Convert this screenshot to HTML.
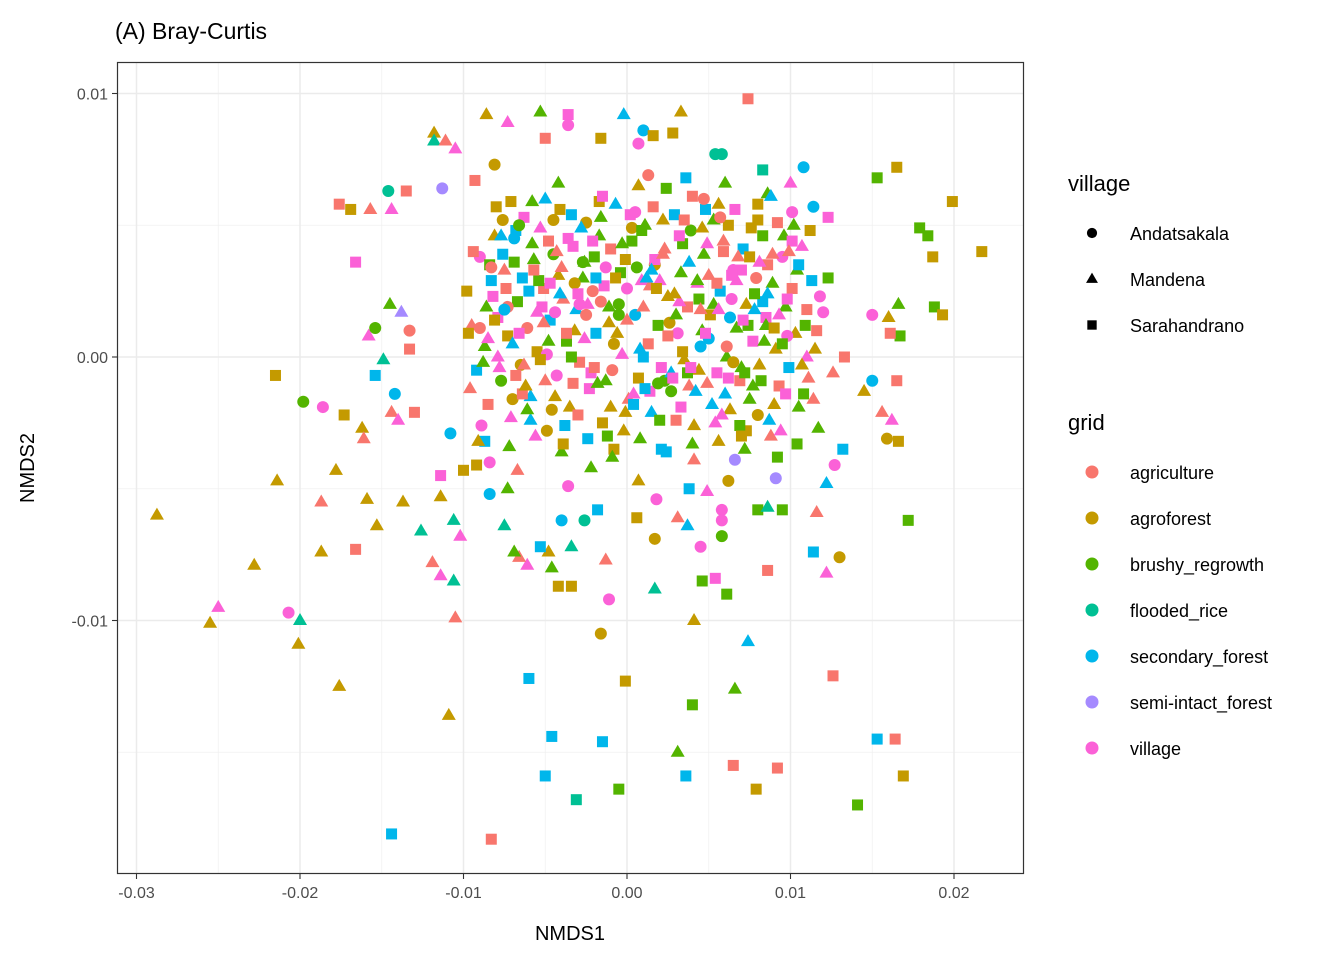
<!DOCTYPE html>
<html><head><meta charset="utf-8"><style>
html,body{margin:0;padding:0;background:#fff;}
svg{display:block;font-family:"Liberation Sans",Arial,sans-serif;}
</style></head><body>
<svg id="chart" width="1344" height="960" xmlns="http://www.w3.org/2000/svg">
<rect width="1344" height="960" fill="#fff"/>
<text x="115" y="39" font-size="23" fill="#000">(A) Bray-Curtis</text>
<g id="grid"></g>
<g id="points"></g>
<rect x="117.5" y="62.5" width="906" height="811" fill="none" stroke="#333" stroke-width="1.2"/>
<g id="axes"></g>
<text x="570" y="940" font-size="20" text-anchor="middle" fill="#000">NMDS1</text>
<text x="0" y="0" font-size="20" text-anchor="middle" fill="#000" transform="translate(34,468) rotate(-90)">NMDS2</text>
<g id="legend"></g>
</svg>
<script>
// values in units of 1e-3
const xTicks = [-30,-20,-10,0,10,20];
const xTickLabels = ["-0.03","-0.02","-0.01","0.00","0.01","0.02"];
const yTicks = [10,0,-10];
const yTickLabels = ["0.01","0.00","-0.01"];
const gridLevels = ["agriculture","agroforest","brushy_regrowth","flooded_rice","secondary_forest","semi-intact_forest","village"];
const villageLevels = ["Andatsakala","Mandena","Sarahandrano"];
const nmds1 = [
-28.75,-25.5,-25.0,-22.8,-20.7,-20.1,-20.0,-21.4,-21.5,-19.8,
-17.6,-18.7,-18.7,-17.8,-18.6,-17.3,-16.6,-15.9,-15.3,-16.2,
-16.1,-16.6,-17.6,-16.9,-15.7,-14.4,-14.6,-13.5,-15.4,-14.9,
-14.2,-14.4,-14.0,-13.7,-13.0,-13.3,-13.8,-15.8,-15.4,-14.5,
-13.3,-12.6,-11.9,-11.4,-10.6,-10.5,-10.9,-11.4,-11.4,-10.8,
-10.6,-10.2,-10.0,-11.8,-11.8,-11.1,-10.5,-11.3,-9.3,-8.6,
-7.3,-8.1,-5.3,-5.0,-3.6,-3.6,-1.6,-0.2,1.0,0.7,
1.6,2.8,3.3,7.4,5.4,5.8,8.3,10.8,8.6,10.1,
11.4,12.3,15.3,16.5,19.9,17.9,18.4,18.7,21.7,18.8,
19.3,16.6,16.0,15.0,16.7,16.1,16.5,15.0,16.6,15.9,
15.6,16.2,17.2,14.5,13.2,13.3,13.0,12.2,11.6,12.2,
12.7,11.4,12.6,8.6,7.4,6.6,6.1,5.4,4.6,6.5,
9.2,7.9,4.0,3.1,3.6,4.1,-0.5,-3.1,-5.0,-4.6,
-6.0,-1.5,-0.1,-1.6,-1.1,-8.3,-14.4,14.1,15.3,16.4,
16.9,9.5,8.0,8.6,9.1,6.2,6.6,5.8,5.8,4.5,
5.8,1.7,0.6,1.7,1.8,3.8,4.9,3.1,3.7,0.7,
-1.3,-1.8,-3.6,-4.0,-2.6,-4.2,-3.4,-4.6,-4.8,-3.4,
-5.3,-6.1,-6.6,-6.9,-7.5,-8.4,-7.3,-8.4,-9.2,-8.7,
-6.7,
-9.8,-9.5,-9.2,-9.0,-8.7,-8.5,-8.3,-8.1,-7.9,-7.7,
-7.5,-7.3,-7.1,-6.9,-6.7,-6.5,-6.3,-6.1,-5.9,-5.7,
-5.5,-5.3,-5.1,-4.9,-4.7,-4.5,-4.3,-4.1,-3.9,-3.7,
-3.5,-3.3,-3.1,-2.9,-2.7,-2.5,-2.3,-2.1,-1.9,-1.7,
-1.5,-1.3,-1.1,-0.9,-0.7,-0.5,-0.3,-0.1,0.1,0.3,
0.5,0.7,0.9,1.1,1.3,1.5,1.7,1.9,2.1,2.3,
2.5,2.7,2.9,3.1,3.3,3.5,3.7,3.9,4.1,4.3,
4.5,4.7,4.9,5.1,5.3,5.5,5.7,5.9,6.1,6.3,
6.5,6.7,6.9,7.1,7.3,7.5,7.7,7.9,8.1,8.3,
8.5,8.7,8.9,9.1,9.3,9.5,9.7,9.9,10.1,10.3,
10.5,10.7,10.9,11.1,11.3,11.5,11.7,12.0,12.3,12.6,
-8.9,-8.0,-7.2,-6.4,-5.6,-4.8,-4.0,-3.2,-2.4,-1.6,
-0.8,0.0,0.8,1.6,2.4,3.2,4.0,4.8,5.6,6.4,
7.2,8.0,8.8,9.6,10.4,11.2,-9.6,-8.6,-7.6,-6.6,
-5.8,-5.0,-4.2,-3.4,-2.6,-1.8,-1.0,-0.2,0.6,1.4,
2.2,3.0,3.8,4.6,5.4,6.2,7.0,7.8,8.6,9.4,
10.2,11.0,-7.0,-6.0,-4.4,-3.0,-2.0,-0.6,1.0,2.0,
3.4,4.4,5.0,6.0,7.0,7.6,8.4,9.0,9.8,-2.2
];
const nmds2 = [
-6.0,-10.1,-9.5,-7.9,-9.7,-10.9,-10.0,-4.7,-0.7,-1.7,
-12.5,-5.5,-7.4,-4.3,-1.9,-2.2,-7.3,-5.4,-6.4,-2.7,
-3.1,3.6,5.8,5.6,5.6,5.6,6.3,6.3,-0.7,-0.1,
-1.4,-2.1,-2.4,-5.5,-2.1,1.0,1.7,0.8,1.1,2.0,
0.3,-6.6,-7.8,-8.3,-8.5,-9.9,-13.6,-5.3,-4.5,-2.9,
-6.2,-6.8,-4.3,8.5,8.2,8.2,7.9,6.4,6.7,9.2,
8.9,7.3,9.3,8.3,9.2,8.8,8.3,9.2,8.6,8.1,
8.4,8.5,9.3,9.8,7.7,7.7,7.1,7.2,6.2,5.5,
5.7,5.3,6.8,7.2,5.9,4.9,4.6,3.8,4.0,1.9,
1.6,2.0,1.5,1.6,0.8,0.9,-0.9,-0.9,-3.2,-3.1,
-2.1,-2.4,-6.2,-1.3,-3.5,0.0,-7.6,-8.2,-5.9,-4.8,
-4.1,-7.4,-12.1,-8.1,-10.8,-12.6,-9.0,-8.4,-8.5,-15.5,
-15.6,-16.4,-13.2,-15.0,-15.9,-10.0,-16.4,-16.8,-15.9,-14.4,
-12.2,-14.6,-12.3,-10.5,-9.2,-18.3,-18.1,-17.0,-14.5,-14.5,
-15.9,-5.8,-5.8,-5.7,-4.6,-4.7,-3.9,-5.8,-6.2,-7.2,
-6.8,-6.9,-6.1,-8.8,-5.4,-5.0,-5.1,-6.1,-6.4,-4.7,
-7.7,-5.8,-4.9,-6.2,-6.2,-8.7,-8.7,-8.0,-7.4,-7.2,
-7.2,-7.9,-7.6,-7.4,-6.4,-5.2,-5.0,-4.0,-4.1,-3.2,
-4.3,
2.5,1.2,-0.5,3.8,0.4,-1.8,2.9,4.6,1.5,-0.9,
3.3,0.8,-2.3,4.5,2.1,-0.3,5.3,1.1,-1.5,3.7,
0.2,4.9,2.6,-2.8,1.4,3.9,-0.7,5.6,2.2,0.6,
-1.9,4.2,1.8,-0.2,3.0,5.1,-1.2,2.5,0.9,4.6,
-2.5,3.4,1.3,-0.5,5.8,2.0,0.1,3.7,-1.6,4.4,
1.6,-0.8,2.9,5.0,0.5,-2.1,3.5,1.2,-0.4,4.1,
2.3,-1.3,5.4,0.9,3.2,-0.1,1.9,4.8,-2.6,2.8,
0.4,3.9,-1.0,1.6,5.2,-0.6,2.5,4.4,0.0,-2.0,
3.3,1.1,-0.9,4.1,2.0,-1.6,0.6,3.0,-0.3,4.6,
1.5,-2.4,2.8,0.3,-1.1,3.8,1.9,-0.4,2.6,0.9,
-1.9,4.2,1.2,-0.8,2.9,0.3,-2.7,1.7,3.0,-0.6,
-2.6,5.7,-3.4,3.0,-3.0,4.4,-3.6,2.8,-3.1,5.3,
-3.5,2.6,-3.1,5.7,-3.6,2.1,-3.3,5.6,-3.2,2.2,
-3.5,5.2,-3.0,4.6,-3.3,4.8,-1.2,1.9,3.9,0.9,
5.9,-0.9,3.1,5.4,0.7,-1.0,4.1,-2.8,3.4,-1.3,
5.2,-2.4,3.6,1.0,-2.5,5.0,-0.4,1.8,3.5,-2.8,
5.0,0.0,-1.6,2.5,1.7,-2.2,3.8,0.9,0.0,2.9,
4.3,-0.5,3.1,-1.4,3.3,4.9,0.6,-1.8,2.2,-4.2
];
const gridIdx = [
1,1,6,1,6,1,3,1,1,2,
1,0,1,1,6,1,0,1,1,1,
0,6,0,1,0,6,3,0,4,3,
4,0,6,1,0,0,5,6,2,2,
0,3,0,6,3,0,1,1,6,4,
3,6,1,1,3,0,6,5,0,1,
6,1,2,0,6,6,1,4,4,6,
1,1,1,0,3,3,3,4,2,6,
4,6,2,1,1,2,2,1,1,2,
1,2,1,6,2,0,0,4,1,1,
0,6,2,1,4,0,1,6,0,4,
6,4,0,0,4,2,2,6,2,0,
0,1,2,2,4,1,2,3,4,4,
4,4,1,1,6,0,4,2,4,0,
1,2,2,3,5,1,5,6,6,6,
2,1,1,3,6,4,6,0,4,1,
0,4,6,4,3,1,1,2,1,3,
4,6,0,2,3,4,2,6,1,4,
0,
1,0,4,6,2,0,4,1,6,2,
0,1,6,4,2,1,6,0,4,2,
1,6,0,1,4,2,6,1,0,2,
1,6,4,0,2,1,6,0,4,2,
1,6,1,0,4,2,6,1,0,2,
4,1,6,2,0,4,1,2,6,0,
1,2,4,6,2,1,0,2,1,6,
4,2,0,1,2,6,4,0,2,1,
6,2,0,4,1,2,6,0,1,2,
6,4,2,1,0,6,2,4,0,1,
2,6,2,0,4,1,2,6,2,0,
6,1,2,4,6,0,2,1,4,2,
1,6,2,0,4,6,2,4,1,6,
2,1,0,2,2,1,0,2,4,6,
2,0,1,4,6,2,0,1,2,6,
1,0,4,2,6,1,2,4,0,6,
2,6,1,4,6,0,2,1,4,6,
2,1,0,4,6,1,2,1,6,2
];
const villageIdx = [
1,1,1,1,0,1,1,1,2,0,
1,1,1,1,0,2,2,1,1,1,
1,2,2,2,1,1,0,2,2,1,
0,1,1,1,2,0,1,1,0,1,
2,1,1,1,1,1,1,1,2,0,
1,1,2,1,1,1,1,0,2,1,
1,0,1,2,2,0,2,1,0,0,
2,2,1,2,0,0,2,0,1,0,
0,2,2,2,2,2,2,2,2,2,
2,1,1,0,2,2,2,0,2,0,
1,1,2,1,2,2,0,1,1,1,
0,2,2,2,1,1,2,2,2,2,
2,2,2,1,2,1,2,2,2,2,
2,2,2,0,0,2,2,2,2,2,
2,2,2,1,0,0,0,0,0,0,
0,0,2,1,0,2,1,1,1,1,
1,2,0,0,0,2,2,1,1,1,
2,1,1,1,1,0,1,0,2,2,
1,
2,1,2,0,1,2,2,1,2,0,
1,2,1,0,2,0,2,0,1,1,
2,1,2,0,2,0,0,2,1,2,
1,2,1,2,1,0,2,0,2,1,
2,0,1,0,1,0,1,2,1,2,
0,2,1,1,2,1,0,2,2,1,
1,0,2,0,1,1,2,0,1,1,
0,1,1,2,1,2,2,1,1,1,
0,1,2,2,1,1,2,0,1,2,
2,1,1,1,2,0,1,2,2,1,
1,1,2,1,2,1,1,0,2,1,
0,2,1,2,1,2,1,0,2,1,
2,0,1,2,2,1,1,2,1,0,
1,2,1,1,2,2,1,1,2,2,
1,1,1,2,1,1,2,1,0,2,
1,2,1,1,1,2,1,1,2,1,
1,1,0,2,0,2,2,1,2,1,
2,1,1,1,2,2,1,1,2,1
];
// dense core of the cloud
const coreNmds1 = [
-9.4,-8.8,-8.2,-7.6,-7.0,-6.4,-5.8,-5.2,-4.6,-4.0,
-3.4,-2.8,-2.2,-1.6,-1.0,-0.4,0.2,0.8,1.4,2.0,
2.6,3.2,3.8,4.4,5.0,5.6,6.2,6.8,7.4,8.0,
8.6,9.2,9.8,10.4,11.0,-9.1,-8.4,-7.8,-7.3,-6.8,
-6.2,-5.4,-4.9,-4.3,-3.8,-3.2,-2.6,-2.0,-1.4,-0.8,
-0.3,0.4,1.0,1.7,2.3,2.9,3.5,4.2,4.8,5.3,
5.9,6.5,7.1,7.7,8.3,8.9,9.5,10.1,10.7,11.6,
-7.9,-6.9,-5.9,-4.5,-3.7,-2.4,-1.2,0.3,1.2,2.5,
3.7,4.9,6.1,7.3,8.5,9.7,-5.1,-1.9,1.9,5.6,
-8.1,-6.3,-3.0,-0.5,2.7,4.0,6.7,8.2,-4.4,0.9,
-8.5,-7.4,-6.6,-5.3,-4.1,-3.6,-2.5,-1.3,-0.7,0.5,
1.1,2.2,3.0,3.9,4.6,5.5,6.3,7.2,8.1,9.0,
9.9,10.8,11.8,-9.7,-7.7,-5.7,-4.8,-2.9,-1.7,0.0,
1.5,2.8,4.3,5.7,7.5,9.3,10.5,-6.1,-3.3,-0.1,
3.3,6.9,-8.3,-5.0,-2.1,0.7,2.4,4.7,6.6,8.8,
-7.1,-4.2,-1.5,1.3,3.6,6.0,8.0,10.0,-6.8,-2.7,
0.4,3.4,5.2,7.8,-9.0,-5.5,-3.9,-0.9,2.1,4.1,
5.8,7.0,9.2,11.4,-7.5,-4.7,-1.1,1.8,4.5,6.4
];
const coreNmds2 = [
4.0,-0.2,2.3,5.2,0.5,-1.4,4.3,1.9,-2.0,3.4,
0.0,4.9,-0.6,2.1,-1.9,3.2,5.4,0.3,2.7,-2.4,
1.3,4.6,-1.1,2.2,0.7,5.8,-0.8,3.8,1.2,-2.2,
2.4,5.1,0.8,3.3,1.8,-3.2,3.5,-0.4,1.9,4.8,
-1.1,2.9,0.1,4.0,-2.6,1.0,3.6,-0.4,2.7,0.5,
4.3,-1.8,1.9,3.7,-0.9,2.4,5.2,-1.3,0.9,2.0,
4.0,-0.2,1.4,-1.1,2.1,3.9,0.5,4.4,-0.3,1.0,
0.0,3.6,-2.4,5.2,0.9,2.0,-3.0,4.9,3.0,0.8,
-0.6,4.3,0.4,-2.8,1.2,-1.4,1.3,3.0,-1.0,1.8,
1.4,-0.3,2.4,1.6,-0.6,6.1,2.9,-0.9,-1.5,4.8,
0.7,2.6,5.0,-0.1,2.4,4.5,1.6,-0.9,3.0,5.5,
-1.2,3.9,1.6,-0.4,4.9,2.8,1.5,-0.6,3.6,1.1,
4.0,-1.4,2.3,0.9,4.6,3.3,0.6,2.0,5.9,1.4,
3.3,-0.8,2.9,5.3,3.8,1.6,3.5,-2.0,-1.0,-2.1,
-1.9,-2.6,3.4,6.0,4.4,6.5,6.4,6.0,5.6,6.1,
5.9,6.6,6.1,6.9,6.8,6.6,5.8,6.6,-0.7,3.6,
-1.4,0.2,-1.8,2.4,1.1,1.7,-3.3,-3.8,-3.5,-3.9,
-2.2,-3.0,-3.8,-1.6,1.8,2.8,1.9,2.6,1.8,3.1
];
const coreGrid = [
0,2,6,1,4,0,2,6,1,0,
2,4,6,0,1,2,6,4,0,2,
1,6,0,2,4,1,6,0,2,1,
4,0,6,2,0,1,2,6,0,4,
1,2,6,0,4,1,2,0,6,1,
2,4,0,6,2,1,0,4,6,2,
0,1,6,2,4,0,2,6,1,0,
6,2,4,1,0,6,2,1,4,0,
2,6,0,1,2,6,0,4,2,6,
1,0,6,2,4,0,6,2,1,2,
6,0,2,1,4,6,0,2,1,6,
4,0,2,6,1,0,4,2,6,1,
0,2,6,1,4,0,2,6,1,0,
4,6,2,0,1,6,4,2,0,1,
6,2,0,4,6,1,2,0,6,4,
1,2,6,0,4,2,1,6,0,2,
6,1,4,2,0,6,1,2,4,0,
6,1,2,0,4,6,2,1,0,6
];
const coreVillage = [
2,1,2,0,1,2,1,2,0,1,
2,1,2,0,1,2,2,1,1,2,
0,2,1,2,0,1,2,1,2,0,
1,2,0,1,2,1,2,1,0,2,
1,2,0,1,2,1,1,2,2,0,
1,2,1,2,0,1,2,1,2,1,
2,0,2,1,2,1,2,2,1,2,
1,2,1,0,2,1,2,0,1,2,
2,1,0,2,1,2,1,2,0,1,
2,1,2,0,1,2,1,2,1,2,
1,2,0,2,1,2,0,1,2,0,
2,1,1,2,1,2,0,2,1,2,
1,2,0,2,1,2,1,0,2,1,
1,2,1,0,2,1,2,1,2,1,
2,2,0,1,2,1,2,0,2,1,
2,1,2,0,2,1,2,1,2,0,
1,2,1,2,0,1,2,1,2,1,
1,2,2,1,0,2,1,2,1,2
];
const palette = ["#F8766D","#C49A00","#53B400","#00C094","#00B6EB","#A58AFF","#FB61D7"];

const NS = "http://www.w3.org/2000/svg";
const PX0 = 627, PXU = 16.35, PY0 = 357, PYU = 26.35;
function sx(v){ return PX0 + v*PXU; }
function sy(v){ return PY0 - v*PYU; }
function mk(tag, attrs, parent){ const e=document.createElementNS(NS,tag); for(const k in attrs) e.setAttribute(k,attrs[k]); parent.appendChild(e); return e; }

function shape(parent, cx, cy, v, col, s){
  let e;
  if(v===0){ e=mk("circle",{cx:cx,cy:cy,r:6*s,fill:col},parent); }
  else if(v===1){ const h=12*s, w=14*s; e=mk("polygon",{points:`${cx},${cy-h*0.62} ${cx-w/2},${cy+h*0.38} ${cx+w/2},${cy+h*0.38}`,fill:col},parent); }
  else { const a=11*s; e=mk("rect",{x:cx-a/2,y:cy-a/2,width:a,height:a,fill:col},parent); }
  return e;
}

const gridG = document.getElementById("grid");
[-25,-15,-5,5,15].forEach(t=>{ const l=mk("line",{x1:sx(t),x2:sx(t),y1:62,y2:874,stroke:"#f0f0f0","stroke-width":0.8},gridG);

 });
[5,-5,-15].forEach(t=>{ const l=mk("line",{x1:117,x2:1024,y1:sy(t),y2:sy(t),stroke:"#f0f0f0","stroke-width":0.8},gridG);

 });
const axesG = document.getElementById("axes");
xTicks.forEach((t,i)=>{
  const l=mk("line",{x1:sx(t),x2:sx(t),y1:62,y2:874,stroke:"#ebebeb","stroke-width":1.5},gridG);
  
  
  const tk=mk("line",{x1:sx(t),x2:sx(t),y1:874,y2:879,stroke:"#333","stroke-width":1.1},axesG);
  
  
  const tx=mk("text",{x:sx(t),y:898,"font-size":16,"text-anchor":"middle",fill:"#4d4d4d"},axesG);
  tx.textContent=xTickLabels[i];
  
  
});
yTicks.forEach((t,i)=>{
  const l=mk("line",{x1:117,x2:1024,y1:sy(t),y2:sy(t),stroke:"#ebebeb","stroke-width":1.5},gridG);
  
  
  const tk=mk("line",{x1:112,x2:117,y1:sy(t),y2:sy(t),stroke:"#333","stroke-width":1.1},axesG);
  
  
  const tx=mk("text",{x:108,y:sy(t)+6,"font-size":16,"text-anchor":"end",fill:"#4d4d4d"},axesG);
  tx.textContent=yTickLabels[i];
  
  
});

const ptsG = document.getElementById("points");
const allX = nmds1.concat(coreNmds1);
const allY = nmds2.concat(coreNmds2);
const allG = gridIdx.concat(coreGrid);
const allV = villageIdx.concat(coreVillage);
for(let i=0;i<allX.length;i++){
  const e = shape(ptsG, sx(allX[i]), sy(allY[i]), allV[i], palette[allG[i]], 1);
  
  
}

const lg = document.getElementById("legend");
const t1 = mk("text",{x:1068,y:191,"font-size":22,fill:"#000"},lg);
t1.textContent="village";


villageLevels.forEach((v,i)=>{
  const y=233+i*46;
  const s=shape(lg,1092,y,i,"#000",0.85);
  
  
  const t=mk("text",{x:1130,y:y+7,"font-size":18,fill:"#000"},lg);
  t.textContent=v;
  
  
});
const t2 = mk("text",{x:1068,y:430,"font-size":22,fill:"#000"},lg);
t2.textContent="grid";


gridLevels.forEach((g,i)=>{
  const y=472+i*46;
  const s=mk("circle",{cx:1092,cy:y,r:6.5,fill:palette[i]},lg);
  
  
  const t=mk("text",{x:1130,y:y+7,"font-size":18,fill:"#000"},lg);
  t.textContent=g;
  
  
});
</script>
</body></html>
